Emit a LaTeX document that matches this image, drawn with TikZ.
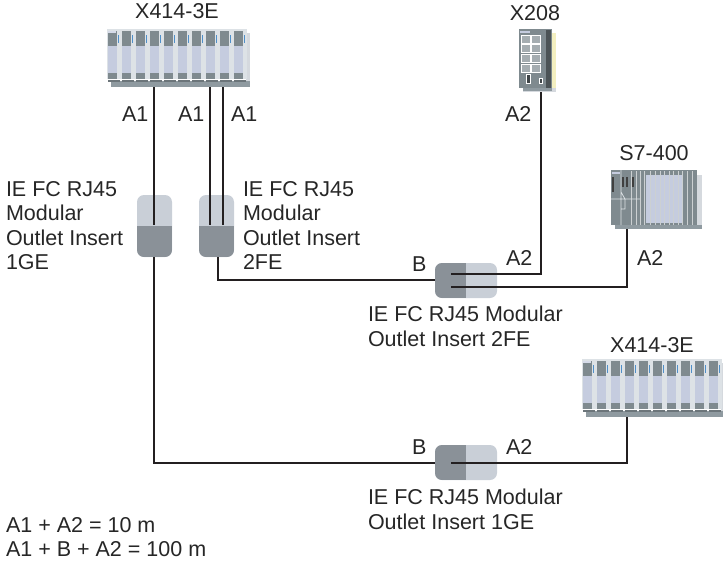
\documentclass[tikz,border=0pt]{standalone}
\usepackage{fontspec}
\setmainfont{Liberation Sans}
\usetikzlibrary{calc}
\definecolor{plugL}{HTML}{C9CFD7}
\definecolor{plugD}{HTML}{8A9198}
\definecolor{wirec}{HTML}{231F20}
\definecolor{devD}{HTML}{7F8A8F}
\definecolor{devM}{HTML}{8F9AA0}
\definecolor{devB}{HTML}{C5CCDF}
\definecolor{devF}{HTML}{DDE2E6}
\definecolor{devS}{HTML}{D5D9DE}
\definecolor{devY}{HTML}{F3EFC0}
\definecolor{devLED}{HTML}{4F8FC8}
\tikzset{
  lbl/.style={font=\fontsize{21.5}{24.6}\selectfont,text=black!85,inner sep=0pt,outer sep=0pt,anchor=base west},
  lblc/.style={lbl,anchor=base},
  mlbl/.style={lbl,align=left,anchor=north west},
  wire/.style={draw=wirec,line width=2.1pt,line join=miter},
  plugV/.style={inner sep=0pt,minimum width=35pt,minimum height=62pt,rounded corners=7pt,fill=plugL,
    path picture={\fill[plugD,sharp corners] (path picture bounding box.west) rectangle (path picture bounding box.south east);}},
  plugH/.style={inner sep=0pt,minimum width=62pt,minimum height=35pt,rounded corners=7pt,fill=plugL,
    path picture={\fill[plugD,sharp corners] (path picture bounding box.north west) rectangle (path picture bounding box.south);}},
  devbox/.style={inner sep=0pt,outer sep=0pt},
}
\newcommand\bankdevice[3]{% name, dx, dy
  \begin{scope}[shift={(#2,#3)}]
    \fill[devS] (244,33) rectangle (250,87);
    \fill[devM] (111,81) rectangle (250,87);
    \foreach \i in {0,...,9}{
      \begin{scope}[shift={(14*\i,0)}]
        \fill[devF] (107,29) rectangle (120.6,79);
        \fill[devD] (108,31) rectangle (116.7,46);
        \fill[devB] (108,46) rectangle (116.7,72.7);
        \fill[devD] (108,72.7) rectangle (116.7,79);
        \fill[devD!85!black] (107.5,79) rectangle (120.4,82);
        \fill[white] (107.5,78.6) rectangle (120.4,79.2);
        \fill[devLED] (117.6,35) rectangle (119.4,43);
      \end{scope}
    }
    \fill[devB!70!white] (108,31) rectangle (116,33);
    \node[devbox,minimum width=143pt,minimum height=58pt] (#1) at (178.5,58) {};
  \end{scope}
}
\begin{document}
\begin{tikzpicture}[x=1pt,y=-1pt]
\useasboundingbox (0,0) rectangle (723,562);
% devices
\bankdevice{xA}{0}{0}
\bankdevice{xB}{475}{330}
% X208
\fill[devS] (523,34) rectangle (556,92);
\fill[devY] (552,33) rectangle (556,88);
\fill[devM] (523,88) rectangle (552,91);
\fill[devD] (519,29) rectangle (552,88);
\fill[devD!60!black] (546,30) rectangle (551,88);
\fill[devB] (520,30.5) rectangle (530,33);
\foreach \r in {0,1,2,3}{
  \foreach \c in {0,1}{
    \draw[white,line width=1pt,fill=devD!70!white] (521+10.5*\c,35+9.7*\r) rectangle (530+10.5*\c,43+9.7*\r);
  }
}
\draw[white,line width=.8pt,fill=devD!50!black] (526,74) rectangle (530,83);
\draw[white,line width=.8pt,fill=devD!50!black] (539,78) rectangle (542,83);
\node[devbox,minimum width=37pt,minimum height=63pt] (xC) at (537.5,60.5) {};
% S7-400
\fill[devS] (697,175) rectangle (702,229);
\fill[devM] (615,225) rectangle (702,229);
\fill[devD] (611,170) rectangle (697,225);
\fill[devB] (612,172) rectangle (620,174);
\fill[devB] (646,175) rectangle (682,223);
\foreach \x in {631,636,640,644,650,655,660,664,669,673,678,682,687,692}{
  \draw[devD!40!white,line width=.7pt] (\x,171) -- (\x,225);
}
\fill[black!75] (612,177) rectangle (614,192);
\fill[black!75] (622,177) rectangle (624,187);
\fill[black!75] (626,177) rectangle (628,187);
\fill[black!75] (631.5,177) rectangle (633.5,187);
\draw[devF,line width=.7pt] (611,199) -- (631,199) (631,199) -- (640,199) (621,170) -- (621,225) (621,192) -- (625,199) -- (625,209) -- (621,209);
\node[devbox,minimum width=91pt,minimum height=59pt] (xD) at (656.5,199.5) {};
% plugs
\node[plugV] (pA) at (154.5,226) {};
\node[plugV] (pB) at (216.5,226) {};
\node[plugH] (pC) at (466,280.5) {};
\node[plugH] (pD) at (466,462.5) {};
% wire anchors
\coordinate (pAin) at (154,225);
\coordinate (pBin1) at (210,225);
\coordinate (pBin2) at (223,225);
\coordinate (pCin1) at (451,274);
\coordinate (pCin2) at (451,287);
\coordinate (pDin) at (451,463);
\coordinate (xA1) at (154,87);
\coordinate (xA2) at (210,87);
\coordinate (xA3) at (223,87);
\coordinate (xCb) at (541,92);
\coordinate (xDb) at (627,229);
\coordinate (xBb) at (627,417);
\coordinate (pAb) at (154,257);
\coordinate (pBb) at (218,257);
\coordinate (pCw) at (435,280);
\coordinate (pDw) at (435,463);
% wires
\draw[wire] (xA1) -- (pAin);
\draw[wire] (xA2) -- (pBin1);
\draw[wire] (xA3) -- (pBin2);
\draw[wire] (pAb) |- (pDw);
\draw[wire] (pBb) |- (pCw);
\draw[wire] (pCin1) -| (xCb);
\draw[wire] (pCin2) -| (xDb);
\draw[wire] (pDin) -| (xBb);
% labels
\node[lblc] (t1) at (177,19) {X414-3E};
\node[lblc] (t2) at (535,20) {X208};
\node[lblc] (t3) at (654,160) {S7-400};
\node[lblc] (t4) at (652,352) {X414-3E};
\node[lbl] (a1) at (122,121) {A1};
\node[lbl] (a2) at (178,121) {A1};
\node[lbl] (a3) at (231,121) {A1};
\node[lbl] (a4) at (505,121) {A2};
\node[lbl] (a5) at (506,265) {A2};
\node[lbl] (a6) at (637,265) {A2};
\node[lbl] (a7) at (506,454) {A2};
\node[lbl] (b1) at (412,271) {B};
\node[lbl] (b2) at (412,454) {B};
\node[mlbl] (m1) at (6,181) {IE FC RJ45\\Modular\\Outlet Insert\\1GE};
\node[mlbl] (m2) at (243,181) {IE FC RJ45\\Modular\\Outlet Insert\\2FE};
\node[mlbl] (m3) at (368,306) {IE FC RJ45 Modular\\Outlet Insert 2FE};
\node[mlbl] (m4) at (368,489) {IE FC RJ45 Modular\\Outlet Insert 1GE};
\node[mlbl] (m5) at (6,517) {A1 + A2 = 10 m\\A1 + B + A2 = 100 m};
\end{tikzpicture}
\end{document}
